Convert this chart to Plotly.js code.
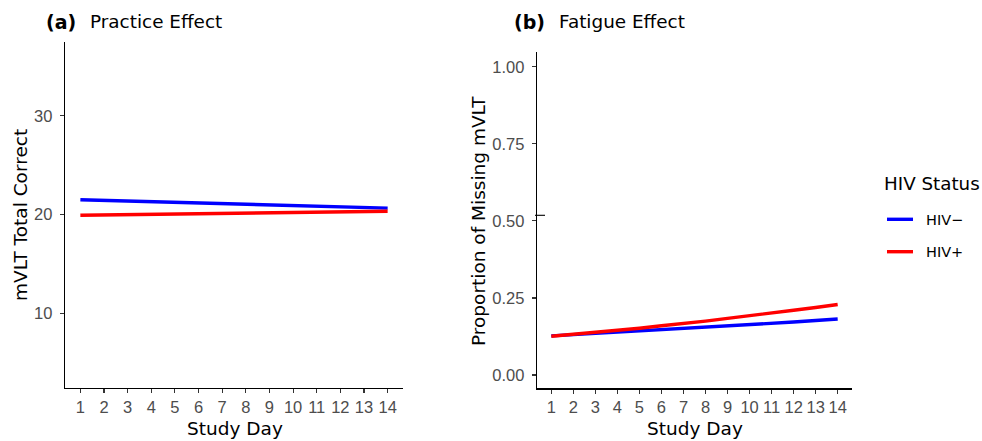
<!DOCTYPE html>
<html><head><meta charset="utf-8">
<script src="https://cdn.plot.ly/plotly-3.0.1.min.js"></script>
<style>body{margin:0;padding:0;background:#fff}#chart{width:982px;height:441px}</style>
</head><body><div id="chart"></div>
<script>
const days = [1,2,3,4,5,6,7,8,9,10,11,12,13,14];
const practiceNeg = [21.50,21.43,21.37,21.30,21.24,21.17,21.11,21.04,20.98,20.91,20.85,20.78,20.72,20.65];
const practicePos = [19.93,19.96,19.99,20.02,20.05,20.08,20.11,20.15,20.18,20.21,20.24,20.27,20.30,20.33];
const fatigueNeg = [0.127,0.131,0.134,0.138,0.142,0.146,0.150,0.155,0.159,0.163,0.168,0.172,0.177,0.182];
const fatiguePos = [0.126,0.132,0.139,0.146,0.152,0.160,0.167,0.175,0.184,0.192,0.201,0.210,0.219,0.229];
const seriesNames = ["HIV\u2212","HIV+"];
const seriesColors = ["#0000FF","#FF0000"];
const yTicksA = [10,20,30];
const yTicksB = [0,0.25,0.5,0.75,1];
const yTickTextB = ["0.00","0.25","0.50","0.75","1.00"];

const FONT = "DejaVu Sans, sans-serif";
const TFONT = "Liberation Sans, Arial, sans-serif";
const lw = 3.4;
const traces = [
  {x:days,y:practiceNeg,xaxis:'x',yaxis:'y',mode:'lines',line:{color:seriesColors[0],width:lw},name:seriesNames[0],showlegend:false},
  {x:days,y:practicePos,xaxis:'x',yaxis:'y',mode:'lines',line:{color:seriesColors[1],width:lw},name:seriesNames[1],showlegend:false},
  {x:days,y:fatigueNeg,xaxis:'x2',yaxis:'y2',mode:'lines',line:{color:seriesColors[0],width:lw},name:seriesNames[0],showlegend:false},
  {x:days,y:fatiguePos,xaxis:'x2',yaxis:'y2',mode:'lines',line:{color:seriesColors[1],width:lw},name:seriesNames[1],showlegend:false}
];
const tickFont = {family:TFONT,size:16.5,color:'#4D4D4D'};
const commonX = {range:[0.35,14.65],tickvals:days,ticks:'outside',ticklen:4,tickwidth:1.1,tickcolor:'#333333',
  showline:true,linecolor:'#000',linewidth:1.3,showgrid:false,zeroline:false,tickfont:tickFont,fixedrange:true};
const commonY = {ticks:'outside',ticklen:4,tickwidth:1.1,tickcolor:'#333333',showline:true,linecolor:'#000',linewidth:1.3,
  showgrid:false,zeroline:false,tickfont:tickFont,ticklabelstandoff:4,fixedrange:true};
const W=982,H=441;
const layout = {
  width:W,height:H,margin:{l:0,r:0,t:0,b:0},paper_bgcolor:'#fff',plot_bgcolor:'#fff',showlegend:false,
  xaxis:Object.assign({},commonX,{domain:[65/W,403/W],anchor:'y'}),
  yaxis:Object.assign({},commonY,{domain:[53.3/H,399/H],range:[2.43,37.5],tickvals:yTicksA,anchor:'x'}),
  xaxis2:Object.assign({},commonX,{domain:[537/W,852/W],anchor:'y2'}),
  yaxis2:Object.assign({},commonY,{domain:[52.7/H,388.7/H],range:[-0.043,1.047],tickvals:yTicksB,ticktext:yTickTextB,anchor:'x2'}),
  shapes:[
    {type:'line',xref:'paper',yref:'paper',x0:535/W,x1:545/W,y0:(H-215.3)/H,y1:(H-215.3)/H,line:{color:'#000',width:1.1}},
    {type:'line',xref:'paper',yref:'paper',x0:887/W,x1:913/W,y0:(H-219.3)/H,y1:(H-219.3)/H,line:{color:seriesColors[0],width:lw}},
    {type:'line',xref:'paper',yref:'paper',x0:887/W,x1:913/W,y0:(H-251.7)/H,y1:(H-251.7)/H,line:{color:seriesColors[1],width:lw}}
  ],
  annotations:[
    {text:'<b>(a)</b>',xref:'paper',yref:'paper',x:44/W,y:(H-22)/H,xanchor:'left',yanchor:'middle',showarrow:false,font:{family:FONT,size:19,color:'#000'}},
    {text:'Practice Effect',xref:'paper',yref:'paper',x:88/W,y:(H-22)/H,xanchor:'left',yanchor:'middle',showarrow:false,font:{family:FONT,size:18.4,color:'#000'}},
    {text:'<b>(b)</b>',xref:'paper',yref:'paper',x:512/W,y:(H-22)/H,xanchor:'left',yanchor:'middle',showarrow:false,font:{family:FONT,size:19,color:'#000'}},
    {text:'Fatigue Effect',xref:'paper',yref:'paper',x:557/W,y:(H-22)/H,xanchor:'left',yanchor:'middle',showarrow:false,font:{family:FONT,size:18.4,color:'#000'}},
    {text:'Study Day',xref:'paper',yref:'paper',x:234.5/W,y:(H-428)/H,xanchor:'center',yanchor:'middle',showarrow:false,font:{family:FONT,size:18.5,color:'#000'}},
    {text:'Study Day',xref:'paper',yref:'paper',x:694.5/W,y:(H-428)/H,xanchor:'center',yanchor:'middle',showarrow:false,font:{family:FONT,size:18.5,color:'#000'}},
    {text:'mVLT Total Correct',xref:'paper',yref:'paper',x:21/W,y:(H-215)/H,xanchor:'center',yanchor:'middle',textangle:-90,showarrow:false,font:{family:FONT,size:18.5,color:'#000'}},
    {text:'Proportion of Missing mVLT',xref:'paper',yref:'paper',x:479/W,y:(H-221)/H,xanchor:'center',yanchor:'middle',textangle:-90,showarrow:false,font:{family:FONT,size:18.5,color:'#000'}},
    {text:'HIV Status',xref:'paper',yref:'paper',x:882/W,y:(H-184)/H,xanchor:'left',yanchor:'middle',showarrow:false,font:{family:FONT,size:18.3,color:'#000'}},
    {text:seriesNames[0],xref:'paper',yref:'paper',x:924/W,y:(H-220)/H,xanchor:'left',yanchor:'middle',showarrow:false,font:{family:FONT,size:14.5,color:'#000'}},
    {text:seriesNames[1],xref:'paper',yref:'paper',x:924/W,y:(H-252)/H,xanchor:'left',yanchor:'middle',showarrow:false,font:{family:FONT,size:14.5,color:'#000'}}
  ]
};
Plotly.newPlot('chart',traces,layout,{staticPlot:true,displayModeBar:false});
</script></body></html>
